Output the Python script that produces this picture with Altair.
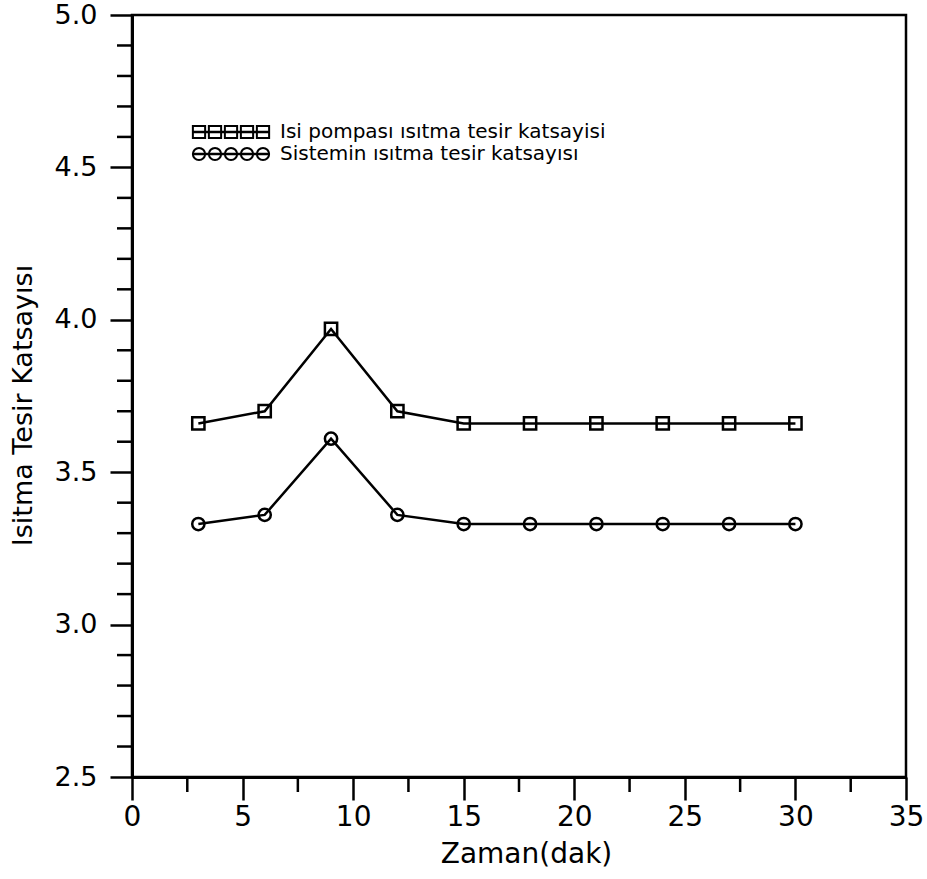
import altair as alt
import pandas as pd

# ---- data ----
time_min = [3, 6, 9, 12, 15, 18, 21, 24, 27, 30]
cop_heat_pump = [3.66, 3.70, 3.97, 3.70, 3.66, 3.66, 3.66, 3.66, 3.66, 3.66]
cop_system = [3.33, 3.36, 3.61, 3.36, 3.33, 3.33, 3.33, 3.33, 3.33, 3.33]
series_names = ["Isi pompası ısıtma tesir katsayisi", "Sistemin ısıtma tesir katsayısı"]
series_shapes = ["square", "circle"]

x_major = [0, 5, 10, 15, 20, 25, 30, 35]
x_minor = [2.5, 7.5, 12.5, 17.5, 22.5, 27.5, 32.5]
y_major = [2.5, 3.0, 3.5, 4.0, 4.5, 5.0]
y_minor = [2.6, 2.7, 2.8, 2.9, 3.1, 3.2, 3.3, 3.4, 3.6, 3.7, 3.8, 3.9,
           4.1, 4.2, 4.3, 4.4, 4.6, 4.7, 4.8, 4.9]

FONT = "DejaVu Sans"
W, H = 774, 762
LW = 2.5

df = pd.DataFrame({
    "time": time_min * 2,
    "value": cop_heat_pump + cop_system,
    "series": [series_names[0]] * len(time_min) + [series_names[1]] * len(time_min),
})

x_enc = alt.X(
    "time:Q",
    scale=alt.Scale(domain=[0, 35], nice=False, zero=False),
    axis=alt.Axis(
        values=x_major, format="d", grid=False,
        tickSize=23, tickWidth=LW, tickColor="black",
        domainWidth=3, domainColor="black",
        labelFontSize=28, labelFont=FONT, labelColor="black", labelPadding=3,
        labelFlush=False,
        title="Zaman(dak)", titleFont=FONT, titleFontSize=28, titleFontWeight="normal",
        titleColor="black", titleX=394, titleY=85, titleBaseline="alphabetic",
        titleAlign="center",
    ),
)
y_enc = alt.Y(
    "value:Q",
    scale=alt.Scale(domain=[2.5, 5.0], nice=False, zero=False),
    axis=alt.Axis(
        values=y_major, format=".1f", grid=False,
        tickSize=22, tickWidth=LW, tickColor="black",
        domainWidth=3, domainColor="black",
        labelFontSize=27, labelFont=FONT, labelColor="black", labelPadding=13,
        labelFlush=False,
        title="Isitma Tesir Katsayısı", titleFont=FONT, titleFontSize=27,
        titleFontWeight="normal", titleColor="black", titleAngle=-90,
        titleX=-109, titleY=390, titleAlign="center", titleBaseline="middle",
    ),
)

base = alt.Chart(df)
lines = base.mark_line(color="black", strokeWidth=LW).encode(
    x=x_enc, y=y_enc, detail="series:N"
)
points = base.mark_point(filled=False, color="black", strokeWidth=LW, size=150, opacity=1).encode(
    x="time:Q", y="value:Q",
    shape=alt.Shape("series:N", scale=alt.Scale(domain=series_names, range=series_shapes), legend=None),
)

xminor = alt.Chart(pd.DataFrame({"time": x_minor})).mark_rule(
    color="black", strokeWidth=LW
).encode(x="time:Q", y=alt.value(H), y2=alt.value(H + 15))

yminor = alt.Chart(pd.DataFrame({"value": y_minor})).mark_rule(
    color="black", strokeWidth=LW
).encode(y="value:Q", x=alt.value(-15), x2=alt.value(0))

# ---- in-plot legend ----
legend_layers = []
for i, (name, shp) in enumerate(zip(series_names, series_shapes)):
    ypx = 117 + 22 * i
    one = pd.DataFrame({"series": [name]})
    legend_layers.append(
        alt.Chart(one).mark_rule(color="black", strokeWidth=LW).encode(
            x=alt.value(60), x2=alt.value(138), y=alt.value(ypx)
        )
    )
    for k in range(5):
        legend_layers.append(
            alt.Chart(one).mark_point(
                shape=shp, filled=False, color="black", strokeWidth=2, size=150, opacity=1
            ).encode(x=alt.value(67 + 16 * k), y=alt.value(ypx))
        )
    legend_layers.append(
        alt.Chart(one).mark_text(
            align="left", baseline="middle", font=FONT, fontSize=20, color="black"
        ).encode(x=alt.value(148), y=alt.value(ypx), text="series:N")
    )

chart = alt.layer(lines, points, xminor, yminor, *legend_layers).properties(
    width=W, height=H,
    autosize=alt.AutoSizeParams(type="none"),
    padding={"left": 132, "top": 15, "right": 21, "bottom": 102},
    background="white",
).configure_view(stroke="black", strokeWidth=2.5)

chart.save("out.html", embed_options={"renderer": "svg", "actions": False})
